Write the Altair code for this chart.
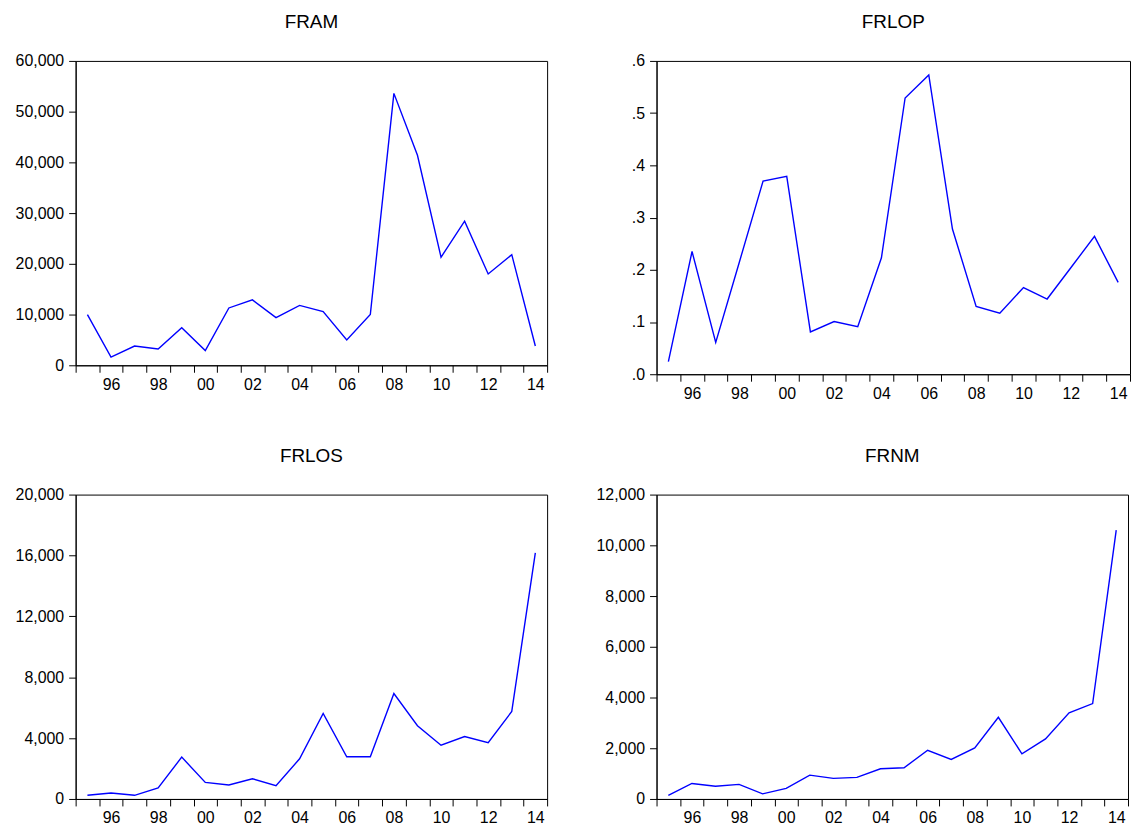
import altair as alt
import pandas as pd

years = list(range(1995, 2015))

fram = [10000, 1600, 3800, 3200, 7400, 2900, 11300, 12900, 9400, 11800,
        10600, 5000, 10000, 53600, 41400, 21300, 28400, 18000, 21800, 3800]
frlop = [0.024, 0.235, 0.061, 0.215, 0.370, 0.379, 0.081, 0.101, 0.091, 0.223,
         0.529, 0.573, 0.278, 0.130, 0.117, 0.166, 0.144, 0.204, 0.264, 0.176]
frlos = [240, 390, 240, 720, 2750, 1090, 920, 1330, 870, 2640,
         5620, 2770, 2770, 6930, 4810, 3530, 4100, 3700, 5750, 16170]
frnm = [140, 610, 500, 575, 200, 420, 940, 810, 850, 1190,
        1230, 1920, 1560, 2010, 3220, 1780, 2370, 3400, 3760, 10600]

FONT = "Liberation Sans"
TICK = 7


def panel(name, values, ymax, yticks, w, h, ylabel_expr=None):
    df = pd.DataFrame({"year": years, "value": values})
    df["pos"] = df["year"] + 0.5
    yaxis_kw = dict(values=yticks, grid=False, title=None, tickSize=TICK,
                    labelPadding=5, labelFontSize=16, labelColor="black",
                    tickColor="black", domainColor="black", labelFont=FONT,
                    labelOverlap=False, labelFlush=False)
    if ylabel_expr:
        yaxis_kw["labelExpr"] = ylabel_expr
    else:
        yaxis_kw["format"] = ",.0f"
    xscale = alt.Scale(domain=[1995, 2015], nice=False, zero=False)
    return alt.Chart(df).mark_line(color="#0000ff", strokeWidth=1.4).encode(
        x=alt.X("pos:Q", scale=xscale,
                axis=alt.Axis(values=list(range(1995, 2016)), grid=False, title=None,
                              tickSize=TICK, labelPadding=4, labelFontSize=16,
                              labelColor="black", tickColor="black",
                              domainColor="black", labelFont=FONT,
                              labelOverlap=False, labelFlush=False,
                              labelOffset={"condition": {"test": "datum.value >= 2015",
                                                         "value": 0},
                                           "value": w / 40},
                              labelExpr="(datum.value % 2 == 0 && datum.value < 2015) ? format(datum.value % 100, '02d') : ''")),
        y=alt.Y("value:Q", scale=alt.Scale(domain=[0, ymax], nice=False),
                axis=alt.Axis(**yaxis_kw)),
    ).properties(
        width=w, height=h,
        title=alt.TitleParams(name, fontSize=19, font=FONT, fontWeight="normal",
                              color="black", offset=21, anchor="middle"),
    )


p1 = panel("FRAM", fram, 60000, list(range(0, 60001, 10000)), 474, 306)
p2 = panel("FRLOP", frlop, 0.6, [0, 0.1, 0.2, 0.3, 0.4, 0.5, 0.6], 476, 315,
           ylabel_expr="replace(format(datum.value, '.1f'), '0.', '.')")
p3 = panel("FRLOS", frlos, 20000, list(range(0, 20001, 4000)), 474, 306)
p4 = panel("FRNM", frnm, 12000, list(range(0, 12001, 2000)), 474, 306)

row1 = alt.hconcat(p1, p2, spacing=83)
row2 = alt.hconcat(p3, p4, spacing=47)

chart = alt.vconcat(row1, row2, spacing=44).properties(
    padding={"left": 6, "top": 2, "right": 0, "bottom": 0},
    background="white",
).configure_view(stroke="black", strokeWidth=1)

chart.save("out.html", embed_options={"renderer": "svg", "actions": False})
